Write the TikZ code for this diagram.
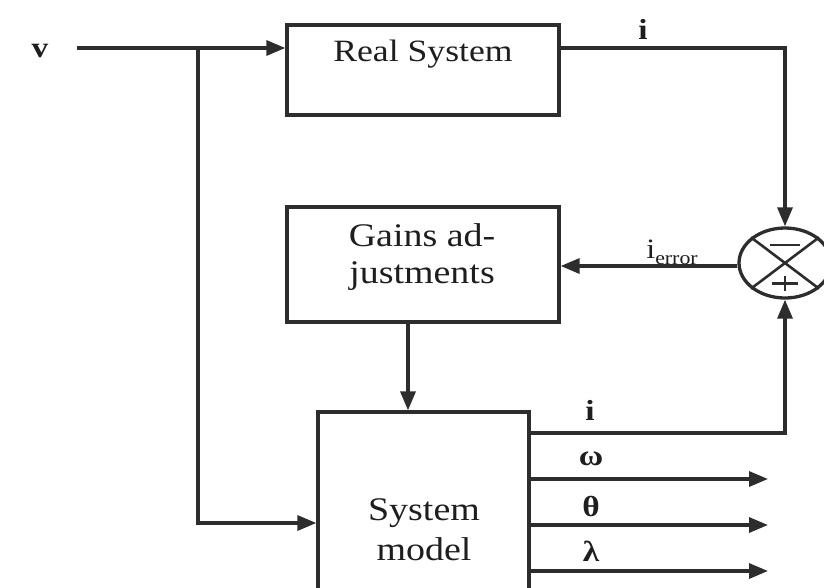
\documentclass[tikz,border=0pt]{standalone}
\usepackage{fontspec}
\setmainfont{Liberation Serif}[FakeStretch=1.15]
\usetikzlibrary{arrows.meta,shapes.geometric,calc}
\definecolor{linec}{RGB}{45,45,45}
\definecolor{textc}{RGB}{30,30,30}
\begin{document}
\begin{tikzpicture}[x=1pt,y=-1pt,
  line width=3.3pt, draw=linec,
  arr/.style={-{Triangle[length=19pt,width=15pt]}},
  block/.style={draw=linec, rectangle, inner sep=0pt},
  btext/.style={text=textc, align=center, inner sep=0pt},
  sig/.style={text=textc, inner sep=0pt, font=\fontsize{29}{32}\selectfont\bfseries},
  sumjoint/.style={draw=linec, ellipse, minimum width=92pt, minimum height=70pt, inner sep=0pt}]
  \clip (0,0) rectangle (824,587);
  \fill[white] (0,0) rectangle (824,587);

  % blocks
  \node[block, minimum width=272pt, minimum height=90pt] (rs) at (423,70) {};
  \node[block, minimum width=272pt, minimum height=115pt] (ga) at (423,264.5) {};
  \node[block, minimum width=211pt, minimum height=200pt] (sm) at (423.5,512) {};
  \node[sumjoint] (sum) at (785,263) {};

  % block texts
  \node[btext, font=\fontsize{31}{36}\selectfont] (rst) at (423,54) {Real System};
  \node[btext, font=\fontsize{33}{37}\selectfont] (gat) at (422,257) {Gains ad-\\justments};
  \node[btext, font=\fontsize{33}{40}\selectfont] (smt) at (424,530) {System\\model};

  % summing junction: cross and signs
  \draw[line width=2.6pt] (sum.37) -- (sum.217);
  \draw[line width=2.6pt] (sum.143) -- (sum.323);
  \draw[line width=2.8pt] ($(sum.center)+(-15,-18)$) -- ($(sum.center)+(15,-18)$);
  \draw[line width=2.8pt] ($(sum.center)+(-13,20.5)$) -- ($(sum.center)+(13,20.5)$);
  \draw[line width=2.8pt] ($(sum.center)+(0,13)$) -- ($(sum.center)+(0,28)$);

  % signal points
  \coordinate (vstart) at (77,48);
  \coordinate (br) at (198,48);
  \coordinate (low) at (198,523);
  \coordinate (gx) at (408,0);
  \coordinate (iout) at (529,433);
  \coordinate (wout) at (529,479);
  \coordinate (tout) at (529,525);
  \coordinate (lout) at (529,571);
  \coordinate (tipx) at (768,0);

  % connectors
  \draw[arr] (vstart) -- (vstart -| rs.west);
  \draw[arr] (br) -- (low) -- (low -| sm.west);
  \draw[arr] (rs.east |- vstart) -| (sum.north);
  \draw[arr] (sum.west |- 0,266) -- (ga.east |- 0,266);
  \draw[arr] (gx |- ga.south) -- (gx |- sm.north);
  \draw[arr] (iout) -| (sum.south);
  \draw[arr] (wout) -- (tipx |- wout);
  \draw[arr] (tout) -- (tipx |- tout);
  \draw[arr] (lout) -- (tipx |- lout);

  % signal labels
  \node[sig] (lv) at (40,51) {v};
  \node[sig] (li) at (643,29) {i};
  \node[sig, font=\fontsize{28}{30}\selectfont] (lerr) at (672,252) {i\raisebox{-0.45ex}{\fontsize{19}{20}\selectfont error}};
  \node[sig] (li2) at (590,410) {i};
  \node[sig] (lw) at (591,459) {ω};
  \node[sig] (lt) at (591,506) {θ};
  \node[sig] (ll) at (591,551) {λ};
\end{tikzpicture}
\end{document}
